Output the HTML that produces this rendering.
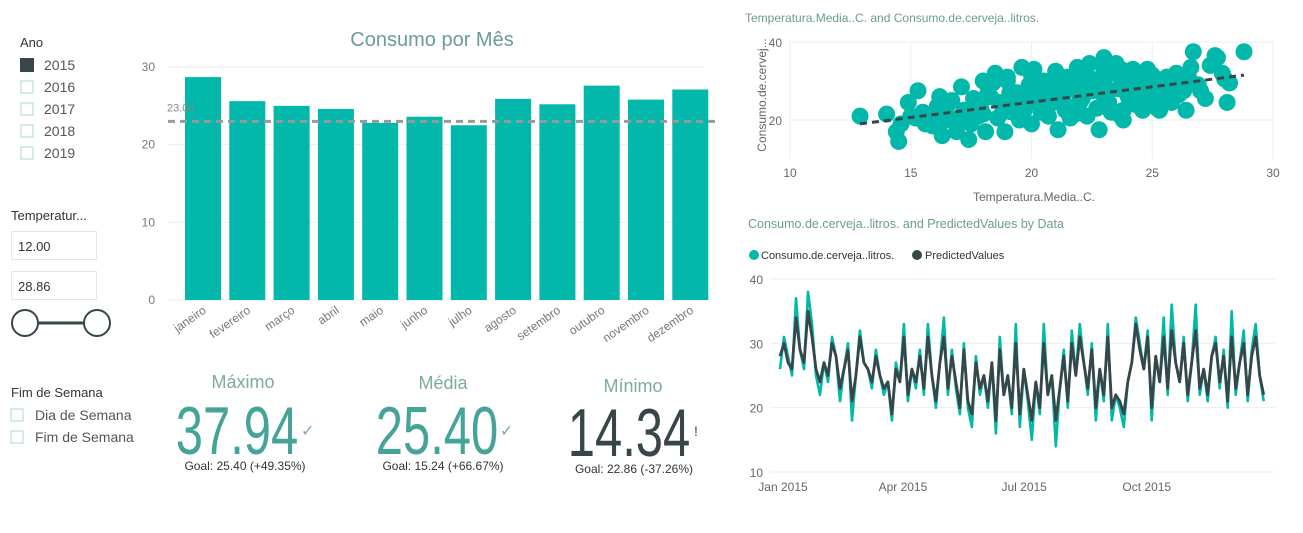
<!DOCTYPE html>
<html><head><meta charset="utf-8"><style>
body{margin:0;background:#fff;font-family:"Liberation Sans",sans-serif}
svg{display:block}
text{font-family:"Liberation Sans",sans-serif}
</style></head><body>
<svg id="root" width="1303" height="533" viewBox="0 0 1303 533">
<g>
<text x="20" y="47" font-size="13" fill="#333">Ano</text>
<g><rect x="20" y="58" width="14" height="14" fill="#374649"/><text x="44" y="70" font-size="14" fill="#555">2015</text></g>
<g><rect x="21" y="81" width="12" height="12" fill="none" stroke="#a8d8d3"/><text x="44" y="92" font-size="14" fill="#555">2016</text></g>
<g><rect x="21" y="103" width="12" height="12" fill="none" stroke="#a8d8d3"/><text x="44" y="114" font-size="14" fill="#555">2017</text></g>
<g><rect x="21" y="125" width="12" height="12" fill="none" stroke="#a8d8d3"/><text x="44" y="136" font-size="14" fill="#555">2018</text></g>
<g><rect x="21" y="147" width="12" height="12" fill="none" stroke="#a8d8d3"/><text x="44" y="158" font-size="14" fill="#555">2019</text></g>
</g>
<g>
<text x="11" y="220" font-size="13" fill="#333">Temperatur...</text>
<g><rect x="11.5" y="231.5" width="85" height="28" fill="#fff" stroke="#e6e6e6"/><text x="18" y="251" font-size="13" fill="#333">12.00</text></g>
<g><rect x="11.5" y="271.5" width="85" height="28" fill="#fff" stroke="#e6e6e6"/><text x="18" y="291" font-size="13" fill="#333">28.86</text></g>
<line x1="38" y1="323" x2="84" y2="323" stroke="#374649" stroke-width="3"/>
<circle cx="25" cy="323" r="13" fill="#fff" stroke="#374649" stroke-width="2"/>
<circle cx="97" cy="323" r="13" fill="#fff" stroke="#374649" stroke-width="2"/>
</g>
<g>
<text x="11" y="397" font-size="13" fill="#333">Fim de Semana</text>
<g><rect x="11" y="409" width="12" height="12" fill="none" stroke="#a8d8d3"/><text x="35" y="420" font-size="14" fill="#555">Dia de Semana</text></g>
<g><rect x="11" y="431" width="12" height="12" fill="none" stroke="#a8d8d3"/><text x="35" y="442" font-size="14" fill="#555">Fim de Semana</text></g>
</g>
<g>
<text x="243" y="388" font-size="18" fill="#7fa9a3" text-anchor="middle">Máximo</text>
<text x="237" y="454" font-size="68" fill="#45a398" text-anchor="middle" transform="translate(237 0) scale(0.72 1) translate(-237 0)" font-weight="300">37.94</text>
<text x="301" y="436" font-size="16" fill="#7fa9a3">✓</text>
<text x="245" y="470" font-size="12" fill="#333" text-anchor="middle">Goal: 25.40 (+49.35%)</text>
</g>
<g>
<text x="443" y="389" font-size="18" fill="#7fa9a3" text-anchor="middle">Média</text>
<text x="437" y="454" font-size="68" fill="#45a398" text-anchor="middle" transform="translate(437 0) scale(0.72 1) translate(-437 0)" font-weight="300">25.40</text>
<text x="500" y="436" font-size="16" fill="#7fa9a3">✓</text>
<text x="443" y="470" font-size="12" fill="#333" text-anchor="middle">Goal: 15.24 (+66.67%)</text>
</g>
<g>
<text x="633" y="392" font-size="18" fill="#7fa9a3" text-anchor="middle">Mínimo</text>
<text x="629" y="456" font-size="68" fill="#374649" text-anchor="middle" transform="translate(629 0) scale(0.72 1) translate(-629 0)" font-weight="300">14.34</text>
<text x="694" y="436" font-size="14" fill="#374649">!</text>
<text x="634" y="473" font-size="12" fill="#333" text-anchor="middle">Goal: 22.86 (-37.26%)</text>
</g>
<g id="bar">
<text x="432" y="46" font-size="20" fill="#6b9c95" text-anchor="middle">Consumo por Mês</text>
</g>
<g id="sc">
<text x="745" y="22" font-size="12" fill="#6b9c95">Temperatura.Media..C. and Consumo.de.cerveja..litros.</text>
<text x="1034" y="201" font-size="12" fill="#666" text-anchor="middle">Temperatura.Media..C.</text>
<text x="0" y="0" font-size="12" fill="#666" text-anchor="middle" transform="translate(766 95) rotate(-90)">Consumo.de.cervej...</text>
</g>
<g id="ln">
<text x="748" y="228" font-size="12.5" fill="#6b9c95">Consumo.de.cerveja..litros. and PredictedValues by Data</text>
<g><circle cx="754" cy="255" r="5" fill="#01B8AA"/><text x="761" y="259" font-size="11" fill="#333">Consumo.de.cerveja..litros.</text></g>
<g><circle cx="917" cy="255" r="5" fill="#374649"/><text x="925" y="259" font-size="11" fill="#333">PredictedValues</text></g>
</g>
</svg>
<script>
const NS='http://www.w3.org/2000/svg';
function mk(p,t,a){const e=document.createElementNS(NS,t);for(const k in a)e.setAttribute(k,a[k]);p.appendChild(e);return e;}

const months=['janeiro','fevereiro','março','abril','maio','junho','julho','agosto','setembro','outubro','novembro','dezembro'];
const monthValues=[28.7,25.6,25.0,24.6,22.8,23.6,22.5,25.9,25.2,27.6,25.8,27.1];
const barTicks=[0,10,20,30];
const refValue=23.0;
const refLabel='23.00';

const temps=[12.9,14.0,14.4,14.5,14.6,14.9,15.0,15.3,15.5,15.6,15.9,16.0,16.2,16.3,16.5,16.7,16.9,17.1,17.2,17.4,17.5,17.6,17.8,18.0,18.1,18.3,18.5,18.6,18.8,18.9,19.0,19.2,19.4,19.5,19.6,19.8,19.9,20.0,20.1,20.3,20.4,20.5,20.7,20.8,20.9,21.0,21.1,21.3,21.4,21.5,21.7,21.8,21.9,22.0,22.2,22.3,22.4,22.5,22.7,22.8,22.9,23.0,23.1,23.3,23.4,23.5,23.7,23.8,23.9,24.0,24.2,24.3,24.5,24.6,24.8,24.9,25.0,25.2,25.4,25.6,25.8,26.0,26.2,26.4,26.6,26.7,26.9,27.2,27.4,27.6,27.9,28.1,28.2,28.8,18.4,19.1,19.7,20.2,20.6,21.2,21.6,22.1,22.6,23.2,23.6,24.1,24.7,25.1,25.5,16.4,17.0,17.7,19.3,20.0,21.0,22.0,23.0,24.4,25.3,26.1,26.5,27.0,27.7,28.0,15.2,16.1,18.2,20.4,21.5,22.9,23.8,21.9,17.3,17.9,18.7,19.5,20.2,20.9,21.6,22.3,23.0,23.7,24.4,25.1,25.8,18.0,18.8,19.6,20.5,21.3,22.1,22.9,23.6,24.3,25.0,25.7,26.3,19.0,20.0,21.0,22.0,23.0,24.0,25.0,26.0,15.8,16.6,17.4];
const consumo=[21.0,21.5,17.0,14.5,19.0,24.5,21.0,27.5,22.0,19.0,18.5,22.0,26.0,16.0,23.5,25.0,17.0,28.5,22.5,15.0,19.0,25.5,21.0,30.0,17.0,26.0,32.0,20.5,24.0,17.0,31.0,22.0,27.0,20.0,33.5,24.0,29.0,19.0,33.0,26.0,22.0,30.0,21.0,28.0,24.5,32.5,17.5,26.0,22.5,31.0,28.0,21.5,33.5,25.0,30.5,21.0,34.5,27.5,23.0,17.5,31.0,36.0,26.5,22.0,32.0,34.5,28.0,22.5,30.0,26.0,33.0,24.0,29.0,22.5,33.0,25.5,30.0,23.0,27.5,31.0,24.5,32.0,28.5,22.5,33.5,37.5,29.0,25.5,34.0,36.5,32.0,24.5,29.5,37.5,29.5,27.0,22.5,26.5,23.5,29.5,20.5,25.5,28.5,24.5,21.5,27.5,26.0,28.0,26.5,20.0,20.5,23.5,23.0,27.0,27.5,24.5,30.0,27.5,22.5,26.5,31.0,27.5,36.0,30.5,20.5,23.5,27.0,24.5,23.0,28.0,20.0,29.5,20.5,23.0,24.5,26.0,27.5,29.0,30.0,31.5,32.5,33.0,31.0,30.0,29.0,21.5,22.0,23.5,24.0,25.0,26.5,27.0,28.0,28.5,27.0,26.5,27.5,30.0,31.5,32.0,33.0,34.0,32.5,31.5,30.5,21.0,20.0,22.5];
const scXTicks=[10,15,20,25,30];
const scYTicks=[20,40];
const trendStart=[12.9,19.0];
const trendEnd=[28.8,31.5];

const dayStep=3;
const consumoSeries=[26,31,28,25,37,29,26,38,33,25, 22,27,24,31,28,21,26,30,18,25, 32,27,26,23,29,25,22,24,18,27, 24,33,21,26,23,29,22,33,25,20, 27,34,22,29,23,19,30,20,17,28, 22,25,20,27,16,31,22,25,19,33, 17,26,21,15,24,19,33,22,25,14, 23,29,20,32,25,33,27,22,30,18, 26,21,33,18,22,20,17,24,27,34, 30,26,32,18,28,24,34,22,36,27, 24,31,21,27,36,22,26,21,28,31, 23,29,20,35,22,27,32,21,29,33,25,21];
const predictedSeries=[28,30,27,26,34,29,27,35,31,26, 24,27,25,30,28,23,26,29,21,25, 31,27,26,24,28,25,23,24,19,26, 24,31,22,26,24,28,23,31,25,21, 27,31,23,28,24,20,29,21,19,27, 23,25,21,27,18,29,22,25,20,30, 19,26,22,18,24,20,30,22,25,18, 23,28,21,30,25,31,27,23,29,20, 26,22,31,20,22,21,19,24,27,33, 29,26,31,20,28,24,31,23,32,27, 24,30,22,27,32,23,26,22,28,30, 24,28,21,31,23,27,30,22,28,31,25,22];
const lnYTicks=[10,20,30,40];
const lnXTickLabels=['Jan 2015','Apr 2015','Jul 2015','Oct 2015'];
const lnXTickDays=[0,90,181,273];

(function(){
const g=document.getElementById('bar');
const y=v=>300-v*(233/30);
const x0=185,step=44.3,bw=36;
barTicks.forEach(t=>{
  const l=mk(g,'line',{x1:168,x2:705,y1:y(t),y2:y(t),stroke:'#eee'});
  
  
  const tx=mk(g,'text',{x:155,y:y(t)+4,'font-size':12,fill:'#777','text-anchor':'end'});tx.textContent=t;
  
  
});
monthValues.forEach((v,i)=>{
  const r=mk(g,'rect',{x:x0+i*step,y:y(v),width:bw,height:y(0)-y(v),fill:'#01B8AA'});
  
  
  const cx=x0+i*step+bw/2+4;
  const t=mk(g,'text',{x:cx,y:312,'font-size':12,fill:'#777','text-anchor':'end',transform:`rotate(-35 ${cx} 312)`});t.textContent=months[i];
  
  
});
const rl=mk(g,'line',{x1:168,x2:720,y1:y(refValue),y2:y(refValue),stroke:'#999','stroke-width':3,'stroke-dasharray':'7 5'});


const rt=mk(g,'text',{x:167,y:y(refValue)-10,'font-size':11,fill:'#888'});rt.textContent=refLabel;


})();

(function(){
const g=document.getElementById('sc');
const x=v=>790+(v-10)*(483/20);
const y=v=>120-(v-20)*(78/20);
scXTicks.forEach(t=>{
  const l=mk(g,'line',{x1:x(t),x2:x(t),y1:42,y2:159,stroke:'#eee'});
  
  
  const tx=mk(g,'text',{x:x(t),y:177,'font-size':12,fill:'#666','text-anchor':'middle'});tx.textContent=t;
  
  
});
scYTicks.forEach(t=>{
  const l=mk(g,'line',{x1:x(10),x2:x(30),y1:y(t),y2:y(t),stroke:'#eee'});
  
  
  const tx=mk(g,'text',{x:782,y:y(t)+5,'font-size':12,fill:'#666','text-anchor':'end'});tx.textContent=t;
  
  
});
temps.forEach((t,i)=>{
  const c=mk(g,'circle',{cx:x(t),cy:y(consumo[i]),r:8.5,fill:'#01B8AA'});
  
  
});
const tl=mk(g,'line',{x1:x(trendStart[0]),y1:y(trendStart[1]),x2:x(trendEnd[0]),y2:y(trendEnd[1]),stroke:'#374649','stroke-width':3,'stroke-dasharray':'7 5'});


})();

(function(){
const g=document.getElementById('ln');
const x=d=>780+d*(485/364);
const y=v=>472-(v-10)*(193/30);
lnYTicks.forEach(t=>{
  const l=mk(g,'line',{x1:770,x2:1275,y1:y(t),y2:y(t),stroke:'#eee'});
  
  
  const tx=mk(g,'text',{x:763,y:y(t)+5,'font-size':12,fill:'#666','text-anchor':'end'});tx.textContent=t;
  
  
});
lnXTickLabels.forEach((s,i)=>{
  const tx=mk(g,'text',{x:x(lnXTickDays[i])+3,y:491,'font-size':12,fill:'#666','text-anchor':'middle'});tx.textContent=s;
  
  
});
const path=arr=>arr.map((v,i)=>(i?'L':'M')+x(i*dayStep).toFixed(1)+' '+y(v).toFixed(1)).join('');
const a=mk(g,'path',{d:path(consumoSeries),fill:'none',stroke:'#01B8AA','stroke-width':2.6,'stroke-linejoin':'round'});


const b=mk(g,'path',{d:path(predictedSeries),fill:'none',stroke:'#374649','stroke-width':2.8,'stroke-linejoin':'round'});


})();
</script>
</body></html>
